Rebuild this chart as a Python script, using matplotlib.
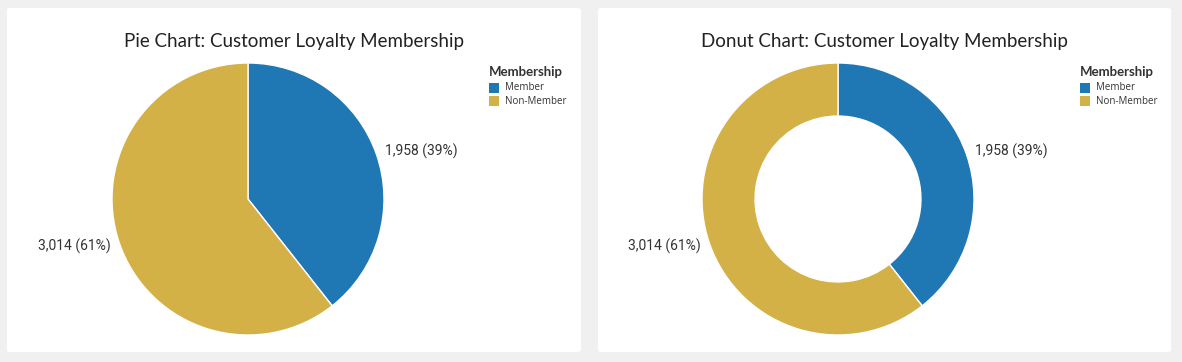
import matplotlib
matplotlib.use("Agg")
import matplotlib.pyplot as plt
from matplotlib.patches import FancyBboxPatch, Rectangle

categories = ["Member", "Non-Member"]
values = [1958, 3014]
colors = ["#1f77b4", "#d4b147"]
titles = ["Pie Chart: Customer Loyalty Membership", "Donut Chart: Customer Loyalty Membership"]
legend_title = "Membership"

W, H = 1182, 362
fig = plt.figure(figsize=(W / 100, H / 100), dpi=100)
fig.patch.set_facecolor("#f0f0f0")

def fx(px):
    return px / W

def fy(py):
    return 1 - py / H

panels = [(7, 8, 581, 352), (598, 8, 1171, 352)]
for (x0, y0, x1, y1) in panels:
    p = FancyBboxPatch((fx(x0), fy(y1)), fx(x1 - x0), (y1 - y0) / H,
                       boxstyle="round,pad=0,rounding_size=0.004",
                       transform=fig.transFigure, facecolor="white",
                       edgecolor="none", zorder=-5)
    fig.patches.append(p)

total = sum(values)
labels = [f"{v:,} ({v / total * 100:.0f}%)" for v in values]

centers = [(248, 199), (838, 199)]
R = 136
for i, (cx, cy) in enumerate(centers):
    ax = fig.add_axes([fx(cx - R), (H - cy - R) / H, 2 * R / W, 2 * R / H])
    ax.set_zorder(2)
    ax.patch.set_alpha(0)
    wedgeprops = dict(edgecolor="white", linewidth=1)
    if i == 1:
        wedgeprops["width"] = 0.39
    wedges, texts = ax.pie(values, colors=colors, startangle=90, counterclock=False,
                           labels=labels, labeldistance=1.07, radius=1,
                           wedgeprops=wedgeprops,
                           textprops=dict(fontsize=10, family="Roboto", color="#333333"))
    ax.set_xlim(-1, 1)
    ax.set_ylim(-1, 1)
    ax.set_aspect("equal")
    ax.axis("off")

    px0, _, px1, _ = panels[i]
    fig.text(fx((px0 + px1) / 2), fy(42), titles[i], ha="center", va="center",
             fontsize=13.5, family="Lato", color="#222222")

    lx = 489 + (px0 - 7)
    fig.text(fx(lx), fy(72), legend_title, ha="left", va="center",
             fontsize=9.5, family="Lato", fontweight="bold", color="#333333")
    for j, cat in enumerate(categories):
        yy = 88 + j * 13
        fig.patches.append(Rectangle((fx(lx), fy(yy + 5)), fx(10), 10 / H,
                                     transform=fig.transFigure, facecolor=colors[j],
                                     edgecolor="none", zorder=1))
        fig.text(fx(lx + 16), fy(yy), cat, ha="left", va="center",
                 fontsize=7, family="Open Sans", color="#333333")

fig.savefig("out.png", dpi=100, facecolor=fig.get_facecolor())
